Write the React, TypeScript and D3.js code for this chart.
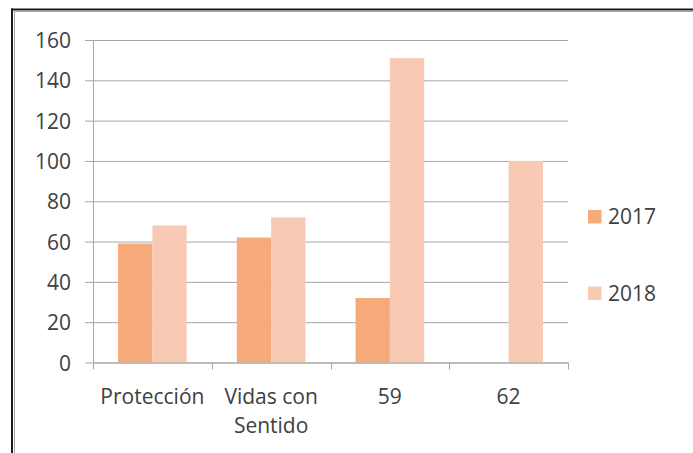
import { useRef, useEffect } from "react";
import * as d3 from "d3";

const categories = ["Protección", "Vidas con\nSentido", "59", "62"];
const series = ["2017", "2018"];
const values2017: (number | null)[] = [59, 62, 32, null];
const values2018: (number | null)[] = [68, 72, 151, 100];
const yTicks = [0, 20, 40, 60, 80, 100, 120, 140, 160];
const colors = ["#F7AA79", "#F8CAB3"];

const width = 693;
const height = 453;

const App = () => {
  const svgRef = useRef<SVGSVGElement | null>(null);

  useEffect(() => {
    if (!svgRef.current) return;
    const svg = d3.select(svgRef.current);
    svg.selectAll("*").remove();

    const font = "'Open Sans', sans-serif";
    const textColor = "#404040";
    const gridColor = "#A6A6A6";

    // frame (top + left edges only, as cropped)
    svg.append("line").attr("x1", 11).attr("x2", width).attr("y1", 9.5).attr("y2", 9.5)
      .attr("stroke", "#1a1a1a").attr("stroke-width", 2);
    svg.append("line").attr("x1", 14).attr("x2", width).attr("y1", 11.5).attr("y2", 11.5)
      .attr("stroke", "#a8a8a8").attr("stroke-width", 1);
    svg.append("line").attr("x1", 12).attr("x2", 12).attr("y1", 8.5).attr("y2", height)
      .attr("stroke", "#1a1a1a").attr("stroke-width", 2);
    svg.append("line").attr("x1", 14.5).attr("x2", 14.5).attr("y1", 11).attr("y2", height)
      .attr("stroke", "#a8a8a8").attr("stroke-width", 1);

    const plot = { left: 93, right: 568, top: 40, bottom: 362.5 };

    const y = d3.scaleLinear().domain([0, 160]).range([plot.bottom, plot.top]);
    const x = d3.scaleBand().domain(categories).range([plot.left, plot.right]);
    const xs = d3
      .scaleBand()
      .domain(series)
      .range([0, x.bandwidth()])
      .paddingInner(0)
      .paddingOuter(0.73);

    // gridlines + y ticks
    const yAxis = d3
      .axisLeft(y)
      .tickValues(yTicks)
      .tickSize(-(plot.right - plot.left))
      .tickPadding(22);
    const gy = svg.append("g").attr("transform", `translate(${plot.left},0)`).call(yAxis);
    gy.select(".domain").remove();
    gy.selectAll(".tick line").attr("stroke", gridColor).attr("x1", -8);
    gy.selectAll(".tick text")
      .attr("fill", textColor)
      .attr("font-family", font)
      .attr("font-size", 21)
      .attr("dy", "0.36em");

    // y axis line
    svg.append("line")
      .attr("x1", plot.left + 0.5).attr("x2", plot.left + 0.5)
      .attr("y1", plot.top).attr("y2", plot.bottom)
      .attr("stroke", gridColor);

    // bars
    const rows = [values2017, values2018];
    rows.forEach((vals, si) => {
      svg.append("g")
        .selectAll("rect")
        .data(categories.map((c, i) => ({ c, v: vals[i] })).filter((d) => d.v != null))
        .join("rect")
        .attr("x", (d) => (x(d.c) as number) + (xs(series[si]) as number))
        .attr("width", xs.bandwidth())
        .attr("y", (d) => y(d.v as number))
        .attr("height", (d) => plot.bottom - y(d.v as number))
        .attr("fill", colors[si]);
    });

    // x axis
    const gx = svg.append("g").attr("transform", `translate(0,${plot.bottom})`);
    gx.append("line")
      .attr("x1", plot.left).attr("x2", plot.right + 0.5)
      .attr("y1", 0.5).attr("y2", 0.5)
      .attr("stroke", gridColor);
    const edges = [...categories.map((c) => x(c) as number), plot.right];
    gx.selectAll("line.tk")
      .data(edges)
      .join("line")
      .attr("class", "tk")
      .attr("x1", (d) => Math.round(d) + 0.5).attr("x2", (d) => Math.round(d) + 0.5)
      .attr("y1", 0).attr("y2", 7)
      .attr("stroke", gridColor);
    categories.forEach((c) => {
      const t = gx.append("text")
        .attr("x", (x(c) as number) + x.bandwidth() / 2)
        .attr("y", 41)
        .attr("text-anchor", "middle")
        .attr("fill", textColor)
        .attr("font-family", font)
        .attr("font-size", 21);
      c.split("\n").forEach((line, li) => {
        t.append("tspan")
          .attr("x", (x(c) as number) + x.bandwidth() / 2)
          .attr("dy", li === 0 ? 0 : 29.5)
          .text(line);
      });
    });

    // legend
    const legendY = [216.5, 293];
    series.forEach((s, i) => {
      const g = svg.append("g").attr("transform", `translate(588,${legendY[i]})`);
      g.append("rect").attr("x", 0).attr("y", -6.5).attr("width", 13.5).attr("height", 13.5)
        .attr("fill", colors[i]);
      g.append("text")
        .attr("x", 20)
        .attr("y", 0)
        .attr("dy", "0.36em")
        .attr("fill", textColor)
        .attr("font-family", font)
        .attr("font-size", 21)
        .text(s);
    });
  }, []);

  return (
    <div style={{ position: "fixed", left: 0, top: 0 }}>
      <svg ref={svgRef} width={width} height={height} style={{ display: "block", background: "#fff" }}></svg>
    </div>
  );
};

export default App;
